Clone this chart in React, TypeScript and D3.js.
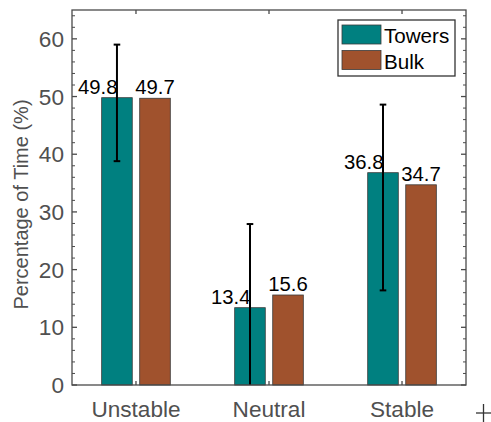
import React from "react";
import * as d3 from "d3";

// Stability classes and the share of time spent in each
const categories = ["Unstable", "Neutral", "Stable"];
const seriesNames = ["Towers", "Bulk"];
const towers = [49.8, 13.4, 36.8];
const bulk = [49.7, 15.6, 34.7];
// Spread of the tower estimates (lower and upper ends of the whisker)
const towersLow = [38.8, -1.1, 16.4];
const towersHigh = [59.0, 27.9, 48.6];
const yTicks = [0, 10, 20, 30, 40, 50, 60];

const W = 491;
const H = 422;
const plot = { left: 72, right: 466, top: 10, bottom: 385 };
const FONT = "'Liberation Sans', Arial, Helvetica, sans-serif";
const AXIS = "#4a4a4a";
const TEXT = "#505050";
const TEAL = "#008080";
const BROWN = "#a0522d";

export default function App() {
  const x = d3
    .scalePoint<string>()
    .domain(categories)
    .range([plot.left, plot.right])
    .padding(0.481);
  const y = d3.scaleLinear().domain([0, 65]).range([plot.bottom, plot.top]);
  const step = x.step();
  const barW = step * 0.23;
  const offset = step * 0.143;
  const minorTicks = d3.range(0, 65, 2).filter((v) => v % 10 !== 0);
  const series = [towers, bulk];
  const colors = [TEAL, BROWN];

  return (
    <div style={{ position: "absolute", left: 0, top: 0 }}>
      <svg width={W} height={H} style={{ display: "block" }} fontFamily={FONT}>
        <defs>
          <clipPath id="plotArea">
            <rect
              x={plot.left}
              y={plot.top}
              width={plot.right - plot.left}
              height={plot.bottom - plot.top}
            />
          </clipPath>
        </defs>
        <rect x={0} y={0} width={W} height={H} fill="#fff" />

        {/* bars */}
        {categories.map((c, i) =>
          series.map((s, k) => {
            const cx = (x(c) as number) + (k === 0 ? -offset : offset);
            return (
              <rect
                key={c + k}
                x={cx - barW / 2}
                y={y(s[i])}
                width={barW}
                height={y(0) - y(s[i])}
                fill={colors[k]}
                stroke="#3a3a3a"
                strokeWidth={0.8}
              />
            );
          })
        )}

        {/* whiskers on the tower bars */}
        <g clipPath="url(#plotArea)" stroke="#000" strokeWidth={2}>
          {categories.map((c, i) => {
            const cx = (x(c) as number) - offset;
            return (
              <g key={c}>
                <line x1={cx} x2={cx} y1={y(towersLow[i])} y2={y(towersHigh[i])} />
                <line x1={cx - 3.3} x2={cx + 3.3} y1={y(towersLow[i])} y2={y(towersLow[i])} />
                <line x1={cx - 3.3} x2={cx + 3.3} y1={y(towersHigh[i])} y2={y(towersHigh[i])} />
              </g>
            );
          })}
        </g>

        {/* value labels */}
        {categories.map((c, i) => {
          const tx = (x(c) as number) - offset;
          const bx = (x(c) as number) + offset;
          return (
            <g key={c} fontSize={20.3} fill="#000">
              <text x={tx + 0.5} y={y(towers[i]) - 4} textAnchor="end">
                {towers[i].toFixed(1)}
              </text>
              <text x={bx} y={y(bulk[i]) - 4} textAnchor="middle">
                {bulk[i].toFixed(1)}
              </text>
            </g>
          );
        })}

        {/* axes box and ticks */}
        <g stroke={AXIS} strokeWidth={1.3} fill="none">
          <rect
            x={plot.left}
            y={plot.top}
            width={plot.right - plot.left}
            height={plot.bottom - plot.top}
          />
          {yTicks.map((v) => (
            <g key={v}>
              <line x1={plot.left} x2={plot.left + 5} y1={y(v)} y2={y(v)} />
              <line x1={plot.right} x2={plot.right - 5} y1={y(v)} y2={y(v)} />
            </g>
          ))}
          {minorTicks.map((v) => (
            <g key={v} strokeWidth={1}>
              <line x1={plot.left} x2={plot.left + 3} y1={y(v)} y2={y(v)} />
              <line x1={plot.right} x2={plot.right - 3} y1={y(v)} y2={y(v)} />
            </g>
          ))}
          {categories.map((c) => (
            <g key={c}>
              <line x1={x(c)} x2={x(c)} y1={plot.bottom} y2={plot.bottom - 4} />
              <line x1={x(c)} x2={x(c)} y1={plot.top} y2={plot.top + 4} />
            </g>
          ))}
        </g>

        {/* tick labels */}
        <g fill={TEXT} fontSize={22.6}>
          {yTicks.map((v) => (
            <text key={v} x={plot.left - 8} y={y(v)} dy="0.36em" textAnchor="end">
              {v}
            </text>
          ))}
          {categories.map((c) => (
            <text key={c} x={x(c)} y={417} textAnchor="middle">
              {c}
            </text>
          ))}
        </g>

        {/* y axis title */}
        <text
          transform={`translate(28, ${(plot.top + plot.bottom) / 2 + 7}) rotate(-90)`}
          textAnchor="middle"
          fontSize={20}
          fill={TEXT}
        >
          Percentage of Time (%)
        </text>

        {/* legend */}
        <g>
          <rect x={338} y={20} width={117} height={56} fill="#fff" stroke="#333" strokeWidth={1.3} />
          {seriesNames.map((name, k) => (
            <g key={name}>
              <rect
                x={342}
                y={25 + k * 25.5}
                width={39}
                height={19}
                fill={colors[k]}
                stroke="#3a3a3a"
                strokeWidth={0.8}
              />
              <text x={384} y={43 + k * 25.5} fontSize={20.6} fill="#000">
                {name}
              </text>
            </g>
          ))}
        </g>

        {/* corner marker */}
        <g stroke="#333" strokeWidth={1.3}>
          <line x1={476} x2={491} y1={413} y2={413} />
          <line x1={483.5} x2={483.5} y1={404} y2={422} />
        </g>
      </svg>
    </div>
  );
}
